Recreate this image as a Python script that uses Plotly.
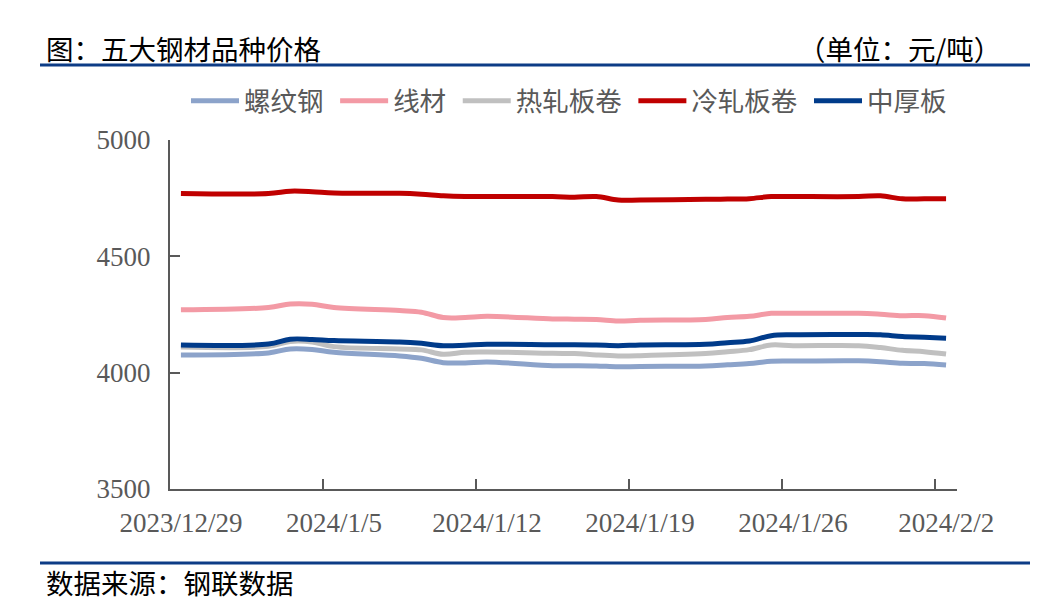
import plotly.graph_objects as go

# ---------------- data ----------------
dates = ["2023-12-29", "2024-01-02", "2024-01-03", "2024-01-04", "2024-01-05",
         "2024-01-08", "2024-01-09", "2024-01-10", "2024-01-11", "2024-01-12",
         "2024-01-15", "2024-01-16", "2024-01-17", "2024-01-18", "2024-01-19",
         "2024-01-22", "2024-01-23", "2024-01-24", "2024-01-25", "2024-01-26",
         "2024-01-29", "2024-01-30", "2024-01-31", "2024-02-01", "2024-02-02"]

rebar = [4076, 4085, 4102, 4100, 4088, 4072, 4062, 4043, 4042, 4046,
         4030, 4030, 4029, 4025, 4027, 4029, 4034, 4039, 4049, 4050,
         4051, 4047, 4040, 4039, 4033]
wire = [4270, 4280, 4295, 4294, 4280, 4267, 4260, 4237, 4237, 4242,
        4231, 4230, 4229, 4222, 4225, 4229, 4237, 4242, 4255, 4255,
        4255, 4251, 4245, 4245, 4235]
hot_coil = [4110, 4113, 4134, 4132, 4112, 4102, 4098, 4079, 4088, 4089,
            4083, 4082, 4076, 4072, 4073, 4082, 4090, 4099, 4119, 4116,
            4116, 4108, 4096, 4090, 4080]
cold_coil = [4770, 4770, 4780, 4778, 4772, 4771, 4767, 4760, 4757, 4757,
             4757, 4754, 4757, 4742, 4742, 4745, 4746, 4748, 4757, 4757,
             4757, 4760, 4747, 4747, 4747]
plate = [4119, 4123, 4144, 4143, 4138, 4132, 4126, 4116, 4118, 4122,
         4120, 4120, 4119, 4116, 4119, 4122, 4129, 4136, 4159, 4163,
         4164, 4163, 4155, 4152, 4148]

series_names = ["螺纹钢", "线材", "热轧板卷", "冷轧板卷", "中厚板"]
series_values = [rebar, wire, hot_coil, cold_coil, plate]
series_colors = ["#8CA3CA", "#F39AA5", "#C0C0C0", "#C00000", "#003B8A"]

tick_dates = ["2023-12-29", "2024-01-05", "2024-01-12", "2024-01-19", "2024-01-26", "2024-02-02"]
tick_labels = ["2023/12/29", "2024/1/5", "2024/1/12", "2024/1/19", "2024/1/26", "2024/2/2"]
y_ticks = [3500, 4000, 4500, 5000]

# ---------------- layout geometry ----------------
W, H = 1061, 613
L, R, T, B = 170, 957, 140, 489


def px(x):
    return (x - L) / (R - L)


def py(y):
    return (B - y) / (B - T)


x_mid = [d + " 12:00" for d in dates]

fig = go.Figure()
for name, vals, col in zip(series_names, series_values, series_colors):
    fig.add_trace(go.Scatter(
        x=x_mid, y=vals, name=name + "\u2005", mode="lines",
        line=dict(color=col, width=5, shape="spline", smoothing=1.0),
    ))

axis_col = "#595959"
tick_font = dict(family="Liberation Serif, Times New Roman, serif", size=27, color=axis_col)
cjk = "Noto Sans CJK SC"

fig.update_layout(
    width=W, height=H,
    margin=dict(l=L, r=W - R, t=T, b=H - B, pad=0),
    paper_bgcolor="white", plot_bgcolor="white",
    showlegend=True,
    legend=dict(
        orientation="h", x=px(186), xanchor="left", y=py(101), yanchor="middle",
        font=dict(family=cjk, size=26.5, color=axis_col),
        itemwidth=48, traceorder="normal",
        bgcolor="rgba(0,0,0,0)",
    ),
    xaxis=dict(
        type="date", range=["2023-12-29", "2024-02-03"],
        tickvals=tick_dates, ticktext=tick_labels,
        ticks="inside", ticklen=10, tickwidth=2, tickcolor=axis_col,
        showline=True, linecolor=axis_col, linewidth=2,
        showgrid=False, zeroline=False,
        tickfont=tick_font, ticklabelshift=11, ticklabelstandoff=9,
    ),
    yaxis=dict(
        range=[3500, 5000], tickvals=y_ticks,
        ticks="inside", ticklen=10, tickwidth=2, tickcolor=axis_col,
        showline=True, linecolor=axis_col, linewidth=2,
        showgrid=False, zeroline=False,
        tickfont=tick_font, ticklabelstandoff=12,
    ),
    hovermode=False,
)

navy = "#0D3C86"
fig.add_shape(type="line", xref="paper", yref="paper",
              x0=px(40), x1=px(1030), y0=py(65), y1=py(65),
              line=dict(color=navy, width=3))
fig.add_shape(type="line", xref="paper", yref="paper",
              x0=px(40), x1=px(1030), y0=py(563), y1=py(563),
              line=dict(color=navy, width=3))

fig.add_annotation(text="图：五大钢材品种价格", xref="paper", yref="paper",
                   x=px(44), y=py(48), xanchor="left", yanchor="middle",
                   showarrow=False, font=dict(family=cjk, size=27.5, color="black"))
fig.add_annotation(text="（单位：元/吨）", xref="paper", yref="paper",
                   x=px(1003), y=py(48), xanchor="right", yanchor="middle",
                   showarrow=False, font=dict(family=cjk, size=27.5, color="black"))
fig.add_annotation(text="数据来源：钢联数据", xref="paper", yref="paper",
                   x=px(44), y=py(582), xanchor="left", yanchor="middle",
                   showarrow=False, font=dict(family=cjk, size=27.5, color="black"))

fig.write_html("out.html", config={"displayModeBar": False, "staticPlot": True},
               post_script="document.body.style.margin='0';")
